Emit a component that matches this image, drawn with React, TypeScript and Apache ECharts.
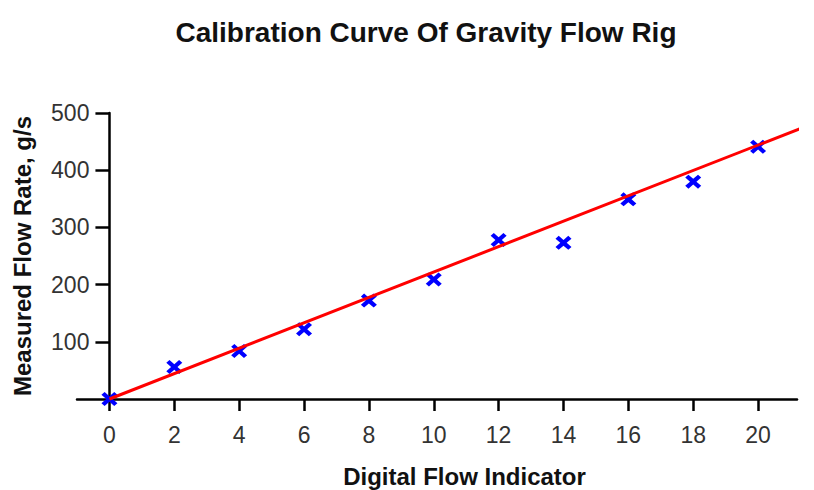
import React, { useEffect, useRef } from "react";
import * as echarts from "echarts";

const xTicks = [0, 2, 4, 6, 8, 10, 12, 14, 16, 18, 20];
const yTicks = [100, 200, 300, 400, 500];
const indicator = [0, 2, 4, 6, 8, 10, 12, 14, 16, 18, 20];
const measured = [0, 56, 84, 122, 172, 209, 278, 273, 349, 380, 441];
const fitX = [0, 21.76];
const fitY = [0, 483];

const crossPath =
  "path://M0,2 L2,0 L5,3 L8,0 L10,2 L7,5 L10,8 L8,10 L5,7 L2,10 L0,8 L3,5 Z";

const X_MIN = -1;
const X_MAX = 21.2;
const GRID_LEFT = 77;
const GRID_RIGHT = 17;

export default function App() {
  const ref = useRef<HTMLDivElement>(null);
  useEffect(() => {
    if (!ref.current) return;
    const chart = echarts.init(ref.current, null, { renderer: "svg" });
    const sans = "'Liberation Sans', Arial, sans-serif";
    // pixel distance from grid's left edge to x = 0, so the y axis sits at x = 0
    const plotWidth = 814 - GRID_LEFT - GRID_RIGHT;
    const yAxisShift = ((0 - X_MIN) / (X_MAX - X_MIN)) * plotWidth;
    chart.setOption({
      animation: false,
      backgroundColor: "#ffffff",
      title: {
        text: "Calibration Curve Of Gravity Flow Rig",
        left: 421,
        textAlign: "center",
        top: 13,
        textStyle: {
          fontFamily: sans,
          fontWeight: "bold",
          fontSize: 28,
          color: "#111",
        },
      },
      grid: {
        left: GRID_LEFT,
        right: GRID_RIGHT,
        top: 113,
        bottom: 91,
        containLabel: false,
        outerBoundsMode: "none",
      },
      xAxis: {
        type: "value",
        min: X_MIN,
        max: X_MAX,
        name: "Digital Flow Indicator",
        nameLocation: "middle",
        nameGap: 65,
        nameMoveOverlap: false,
        nameTextStyle: {
          fontFamily: sans,
          fontWeight: "bold",
          fontSize: 24,
          color: "#111",
          padding: [0, 0, 0, 55],
        },
        splitLine: { show: false },
        axisLine: { show: true, onZero: true, lineStyle: { color: "#000", width: 2.5 } },
        axisTick: {
          show: true,
          customValues: xTicks,
          length: 12,
          inside: false,
          lineStyle: { color: "#000", width: 2.5 },
        },
        axisLabel: {
          customValues: xTicks,
          margin: 24,
          fontFamily: sans,
          fontSize: 23,
          color: "#333",
        },
      },
      yAxis: {
        type: "value",
        min: 0,
        max: 500,
        offset: -yAxisShift,
        name: "Measured Flow Rate, g/s",
        nameLocation: "middle",
        nameRotate: 90,
        nameGap: 75,
        nameMoveOverlap: false,
        nameTextStyle: {
          fontFamily: sans,
          fontWeight: "bold",
          fontSize: 24,
          color: "#111",
        },
        splitLine: { show: false },
        axisLine: { show: true, onZero: false, lineStyle: { color: "#000", width: 2.5 } },
        axisTick: {
          show: true,
          customValues: yTicks,
          length: 14,
          inside: false,
          lineStyle: { color: "#000", width: 2.5 },
        },
        axisLabel: {
          customValues: yTicks,
          margin: 20,
          fontFamily: sans,
          fontSize: 23,
          color: "#333",
          padding: [0, 0, 8, 0],
        },
      },
      series: [
        {
          type: "line",
          data: fitX.map((x, i) => [x, fitY[i]]),
          showSymbol: false,
          clip: false,
          lineStyle: { color: "#ff0000", width: 3 },
          z: 3,
        },
        {
          type: "scatter",
          data: indicator.map((x, i) => [x, measured[i]]),
          symbol: crossPath,
          symbolSize: [16, 14],
          itemStyle: { color: "#0000ff", opacity: 1 },
          clip: false,
          z: 2,
        },
      ],
    });
    return () => chart.dispose();
  }, []);
  return (
    <div
      ref={ref}
      style={{ position: "absolute", left: 0, top: 0, width: 814, height: 490 }}
    />
  );
}
